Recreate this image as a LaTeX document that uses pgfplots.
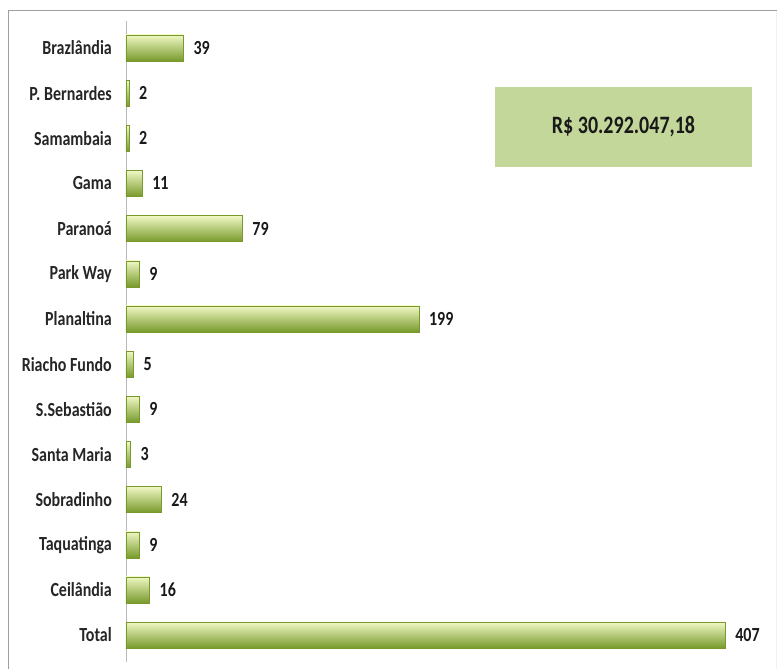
\documentclass[border=0pt]{standalone}
\usepackage{pgfplots}
\pgfplotsset{compat=1.18}
\usepackage{fontspec}
\setmainfont{Carlito}
\newfontfamily\lab{Carlito}[FakeStretch=0.8]
\definecolor{boxgreen}{HTML}{C4D79B}
\definecolor{bartop}{HTML}{F0F8C4}
\definecolor{barmid}{HTML}{B6DB5A}
\definecolor{barbot}{HTML}{789A2C}
\pgfplotsset{
  gbar/.style={xbar, bar shift=0pt, draw=barbot, line width=0.3bp,
    top color=bartop, middle color=barmid, bottom color=barbot},
}
\begin{document}
\begin{tikzpicture}
\begin{axis}[
  scale only axis, width=647.7bp, height=641.2bp,
  bar width=26bp,
  xmin=0, xmax=440, ymin=-0.6, ymax=13.6,
  y dir=reverse,
  clip=false,
  hide x axis,
  axis y line*=left,
  y axis line style={gray!55, line width=0.8bp},
  ytick={0,...,13},
  yticklabels={Brazlândia,P. Bernardes,Samambaia,Gama,Paranoá,Park Way,Planaltina,Riacho Fundo,S.Sebastião,Santa Maria,Sobradinho,Taquatinga,Ceilândia,Total},
  ytick style={draw=none},
  yticklabel style={font=\lab\bfseries\fontsize{20bp}{22bp}\selectfont, text=black!85, inner sep=0pt, xshift=-14bp},
  point meta=x,
  /pgf/number format/assume math mode=true,
  nodes near coords,
  nodes near coords style={font=\lab\bfseries\fontsize{20bp}{22bp}\selectfont, text=black!90, anchor=west, inner sep=0pt, xshift=10bp},
]
\addplot[gbar] coordinates {(39,0)};
\addplot[gbar] coordinates {(2,1)};
\addplot[gbar] coordinates {(2,2)};
\addplot[gbar] coordinates {(11,3)};
\addplot[gbar] coordinates {(79,4)};
\addplot[gbar] coordinates {(9,5)};
\addplot[gbar] coordinates {(199,6)};
\addplot[gbar] coordinates {(5,7)};
\addplot[gbar] coordinates {(9,8)};
\addplot[gbar] coordinates {(3,9)};
\addplot[gbar] coordinates {(24,10)};
\addplot[gbar] coordinates {(9,11)};
\addplot[gbar] coordinates {(16,12)};
\addplot[gbar] coordinates {(407,13)};
\coordinate (O) at (axis cs:0,13.6);
\end{axis}
\begin{scope}[shift={(O)}, xshift=-126bp, yshift=-6.9bp, x=1bp, y=1bp]
\draw[gray!75, line width=1.6bp] (8.5,0) -- (8.5,658.5) -- (777,658.5);
\draw[gray!12, line width=1bp] (776.5,658) -- (776.5,0);
\node[fill=boxgreen, minimum width=257bp, minimum height=80bp, inner sep=0pt,
      font=\lab\bfseries\fontsize{25bp}{28bp}\selectfont, text=black!90] at (623.5,542) {R\$ 30.292.047,18};
\pgfresetboundingbox
\useasboundingbox (0,0) rectangle (780,669);
\end{scope}
\end{tikzpicture}
\end{document}
